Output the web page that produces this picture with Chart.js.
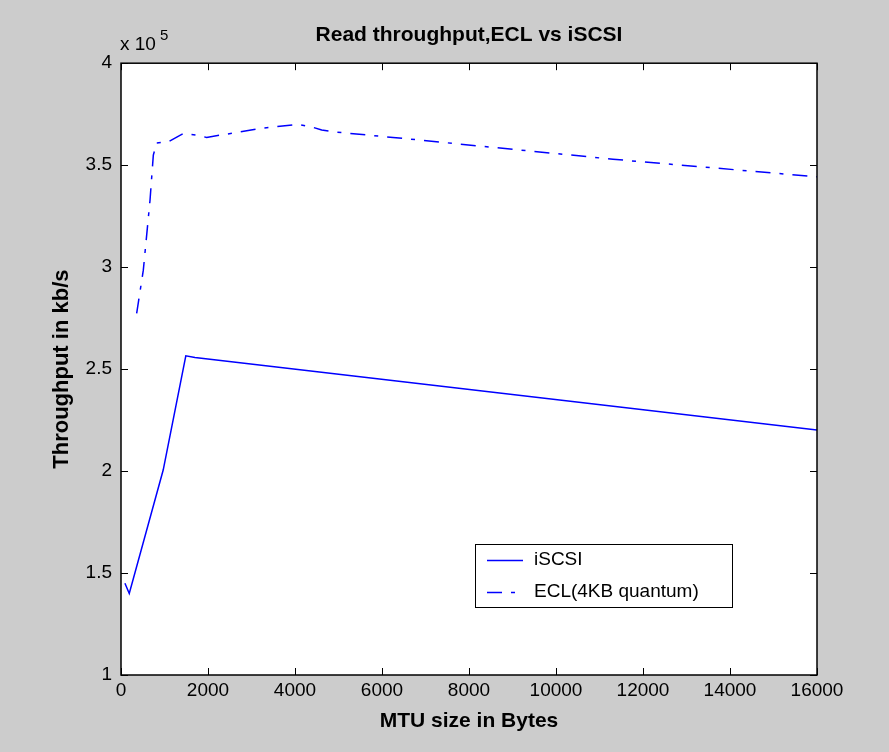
<!DOCTYPE html>
<html>
<head>
<meta charset="utf-8">
<script src="https://cdn.jsdelivr.net/npm/chart.js@4.4.1/dist/chart.umd.min.js"></script>
<style>
    html, body { margin: 0; padding: 0; background: #cccccc; }
    #wrap { width: 889px; height: 752px; position: relative; }
</style>
</head>
<body>
<div id="wrap"><canvas id="throughput-chart" width="889" height="752"></canvas></div>
<script>
// Data (MTU in bytes, throughput in kb/s)
const iscsiMtu = [90, 190, 970, 1490, 1700, 16000];
const iscsiThroughput = [145000, 140000, 200500, 256500, 255700, 220100];

const eclMtu = [360, 513, 667, 743, 820, 1087, 1432, 1740, 1970, 2276, 2660, 3195, 3655, 4076, 4420, 4614, 4959, 6253, 11310, 16000];
const eclThroughput = [277300, 298500, 332800, 354900, 360900, 361400, 365500, 364700, 363600, 364700, 366000, 368000, 369100, 370000, 368500, 367200, 366200, 363600, 352900, 344300];

const xTicks = [0, 2000, 4000, 6000, 8000, 10000, 12000, 14000, 16000];
const yTicks = [100000, 150000, 200000, 250000, 300000, 350000, 400000];

const FONT = "'Liberation Sans', Arial, Helvetica, sans-serif";
const ECL_DASH = [15, 9, 4, 9];

const toPoints = (xs, ys) => xs.map((x, i) => ({ x: x, y: ys[i] }));

// White plot area on the grey figure
const plotBackgroundPlugin = {
    id: 'plotBackground',
    beforeDraw(chart) {
        const { ctx, chartArea: area } = chart;
        ctx.save();
        ctx.fillStyle = '#ffffff';
        ctx.fillRect(area.left, area.top, area.right - area.left, area.bottom - area.top);
        ctx.restore();
    }
};

// Box outline plus inward ticks on all four sides, like the original plot
const boxTicksPlugin = {
    id: 'boxTicks',
    afterDraw(chart) {
        const { ctx, chartArea: area, scales } = chart;
        const len = 7;
        ctx.save();
        ctx.strokeStyle = '#000';
        ctx.lineWidth = 1;
        ctx.beginPath();
        xTicks.forEach(v => {
            const px = Math.round(scales.x.getPixelForValue(v)) + 0.5;
            ctx.moveTo(px, area.bottom);
            ctx.lineTo(px, area.bottom - len);
            ctx.moveTo(px, area.top);
            ctx.lineTo(px, area.top + len);
        });
        yTicks.forEach(v => {
            const py = Math.round(scales.y.getPixelForValue(v)) + 0.5;
            ctx.moveTo(area.left, py);
            ctx.lineTo(area.left + len, py);
            ctx.moveTo(area.right, py);
            ctx.lineTo(area.right - len, py);
        });
        ctx.stroke();
        ctx.lineWidth = 1.5;
        ctx.strokeRect(area.left, area.top, area.right - area.left, area.bottom - area.top);

        // exponent label above the y axis
        ctx.fillStyle = '#000';
        ctx.textBaseline = 'alphabetic';
        ctx.textAlign = 'left';
        ctx.font = '19px ' + FONT;
        ctx.fillText('x 10', 120, 50);
        ctx.font = '15px ' + FONT;
        ctx.fillText('5', 160, 40);
        ctx.restore();
    }
};

// Legend drawn inside the plot area
const innerLegendPlugin = {
    id: 'innerLegend',
    afterDraw(chart) {
        const { ctx } = chart;
        const box = { x: 475.5, y: 544.5, w: 257, h: 63 };
        const rows = [560, 592];
        ctx.save();
        ctx.fillStyle = '#fff';
        ctx.fillRect(box.x, box.y, box.w, box.h);
        ctx.strokeStyle = '#000';
        ctx.lineWidth = 1;
        ctx.strokeRect(box.x, box.y, box.w, box.h);
        chart.data.datasets.forEach((ds, i) => {
            const y = rows[i] + 0.5;
            ctx.strokeStyle = ds.borderColor;
            ctx.lineWidth = ds.borderWidth;
            ctx.setLineDash(ds.borderDash || []);
            ctx.beginPath();
            ctx.moveTo(487, y);
            ctx.lineTo(523, y);
            ctx.stroke();
            ctx.setLineDash([]);
            ctx.fillStyle = '#000';
            ctx.font = '19px ' + FONT;
            ctx.textBaseline = 'middle';
            ctx.textAlign = 'left';
            ctx.fillText(ds.label, 534, rows[i]);
        });
        ctx.restore();
    }
};

const ctx = document.getElementById('throughput-chart').getContext('2d');

new Chart(ctx, {
    type: 'line',
    data: {
        datasets: [
            {
                label: 'iSCSI',
                data: toPoints(iscsiMtu, iscsiThroughput),
                borderColor: '#0000ff',
                borderWidth: 1.5,
                pointRadius: 0,
                tension: 0,
                fill: false,
            },
            {
                label: 'ECL(4KB quantum)',
                data: toPoints(eclMtu, eclThroughput),
                borderColor: '#0000ff',
                borderWidth: 1.5,
                borderDash: ECL_DASH,
                pointRadius: 0,
                tension: 0,
                fill: false,
            }
        ]
    },
    options: {
        responsive: false,
        animation: false,
        events: [],
        layout: { padding: { left: 0, top: 0, right: 72, bottom: 0 } },
        plugins: {
            legend: { display: false },
            tooltip: { enabled: false },
            title: {
                display: true,
                fullSize: false,
                text: 'Read throughput,ECL vs iSCSI',
                color: '#000',
                font: { family: FONT, size: 21, weight: 'bold' },
                padding: { top: 23, bottom: 15 },
            }
        },
        scales: {
            x: {
                type: 'linear',
                min: 0,
                max: 16000,
                afterFit: (scale) => { scale.height = 77; },
                afterBuildTicks: (scale) => { scale.ticks = xTicks.map(v => ({ value: v })); },
                grid: { display: false, drawTicks: false },
                border: { display: false },
                ticks: {
                    color: '#000',
                    font: { family: FONT, size: 19 },
                    padding: 4,
                    maxRotation: 0,
                    autoSkip: false,
                    callback: (v) => String(v),
                },
                title: {
                    display: true,
                    text: 'MTU size in Bytes',
                    color: '#000',
                    font: { family: FONT, size: 21, weight: 'bold' },
                    padding: { top: 0, bottom: 18 },
                }
            },
            y: {
                type: 'linear',
                min: 100000,
                max: 400000,
                afterFit: (scale) => { scale.width = 121; },
                afterBuildTicks: (scale) => { scale.ticks = yTicks.map(v => ({ value: v })); },
                grid: { display: false, drawTicks: false },
                border: { display: false },
                ticks: {
                    color: '#000',
                    font: { family: FONT, size: 19 },
                    padding: 9,
                    autoSkip: false,
                    callback: (v) => String(v / 100000),
                },
                title: {
                    display: true,
                    text: 'Throughput in kb/s',
                    color: '#000',
                    font: { family: FONT, size: 22, weight: 'bold' },
                    padding: { top: 49, bottom: 0 },
                }
            }
        }
    },
    plugins: [plotBackgroundPlugin, boxTicksPlugin, innerLegendPlugin]
});
</script>
</body>
</html>
